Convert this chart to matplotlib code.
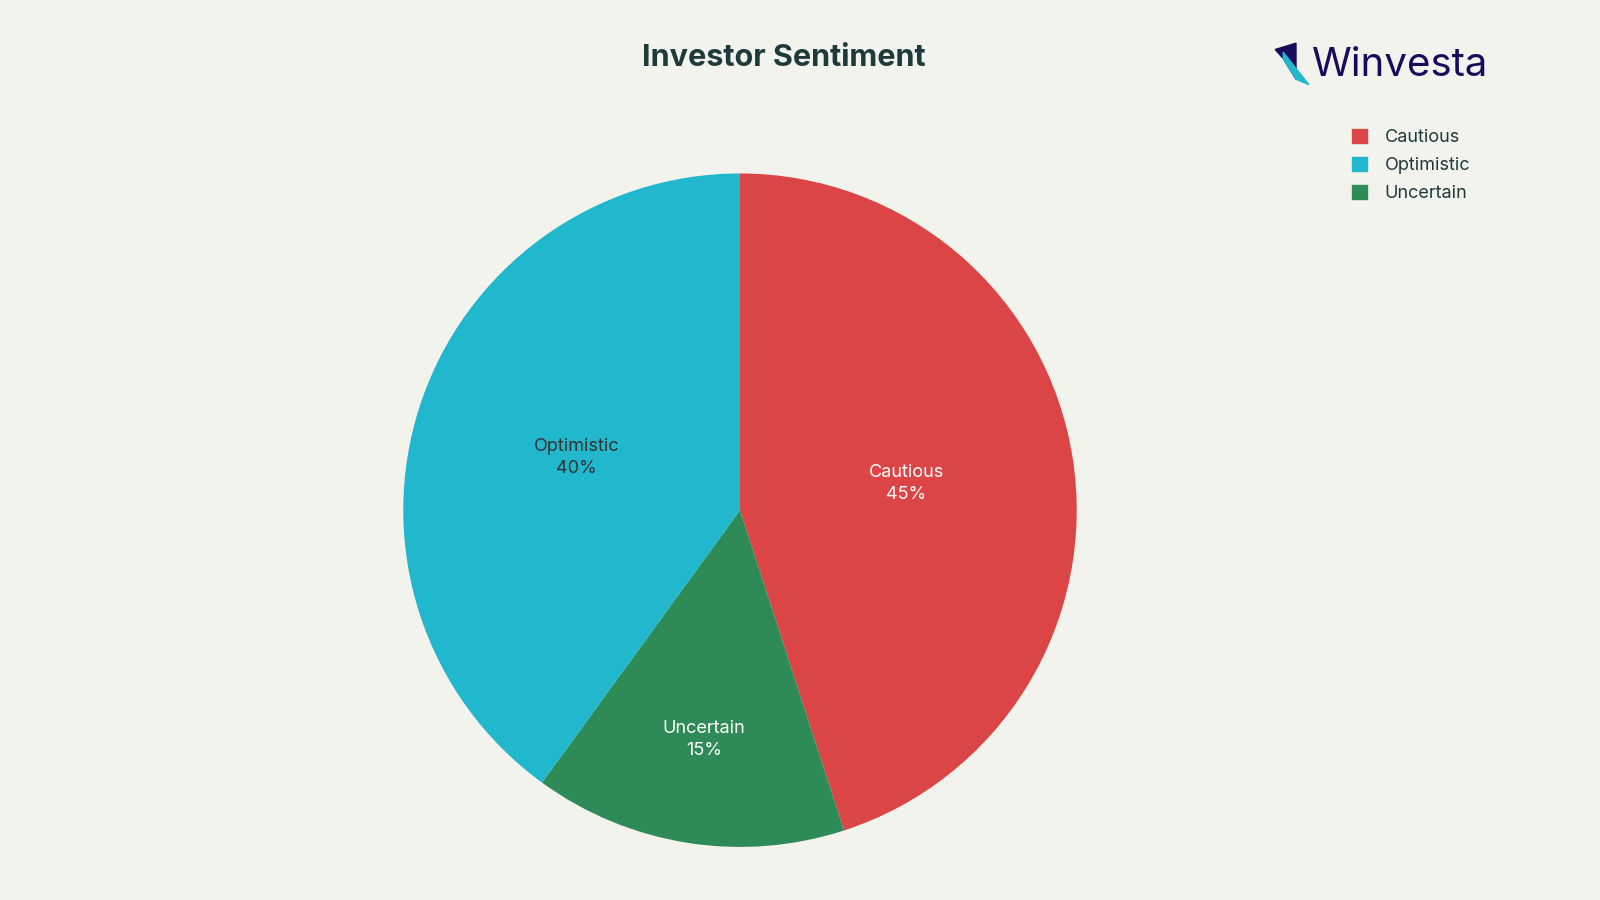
import matplotlib
matplotlib.use("Agg")
import matplotlib.pyplot as plt
from matplotlib.patches import Polygon
import numpy as np

categories = ["Cautious", "Uncertain", "Optimistic"]
values = [45, 15, 40]
colors = ["#DC4546", "#2E8B57", "#21B7CC"]
text_colors = ["white", "white", "#333333"]
label_dist = [0.5, 0.69, 0.51]
legend_order = ["Cautious", "Optimistic", "Uncertain"]

bg = "#F3F3EE"
fig = plt.figure(figsize=(16, 9), dpi=100, facecolor=bg)
R = 330 / 882
ax = fig.add_axes([0.4625 - R * 9 / 16, (1 - 500 / 882) - R, 2 * R * 9 / 16, 2 * R])
ax.set_facecolor(bg)
wedges, _ = ax.pie(values, colors=colors, startangle=90, counterclock=False,
                   wedgeprops=dict(linewidth=0))
ang = 90
for w, c, v, tc, d in zip(wedges, categories, values, text_colors, label_dist):
    mid = np.deg2rad(ang - v * 3.6 / 2)
    ang -= v * 3.6
    ax.text(d * np.cos(mid), d * np.sin(mid), f"{c}\n{v}%", ha="center", va="center",
            color=tc, fontsize=13, family="Inter", linespacing=1.4)
ax.set_xlim(-1, 1)
ax.set_ylim(-1, 1)
ax.set_aspect("equal")
ax.axis("off")

fig.text(0.49, 0.935, "Investor Sentiment", ha="center", va="center", fontsize=22,
         fontweight="bold", color="#1E3A3A", family="Inter")

handles = [plt.Rectangle((0, 0), 1, 1, color=colors[categories.index(n)]) for n in legend_order]
leg = fig.legend(handles, legend_order, loc="upper left", bbox_to_anchor=(0.835, 0.875),
                 frameon=False, fontsize=13, handlelength=0.8, handleheight=0.8,
                 labelspacing=0.6, handletextpad=1.0)
for t in leg.get_texts():
    t.set_color("#1E3A3A"); t.set_family("Inter")

fig.text(0.820, 0.927, "Winvesta", ha="left", va="center", fontsize=29, color="#1A0A5C", family="Inter")
fig.patches.append(Polygon([(0.797, 0.945), (0.810, 0.952), (0.810, 0.912), (0.802, 0.935)],
                           closed=True, transform=fig.transFigure, color="#1A0A5C"))
fig.patches.append(Polygon([(0.802, 0.935), (0.810, 0.912), (0.818, 0.906), (0.802, 0.942)],
                           closed=True, transform=fig.transFigure, color="#21B7CC"))
fig.savefig("out.png", facecolor=bg)
